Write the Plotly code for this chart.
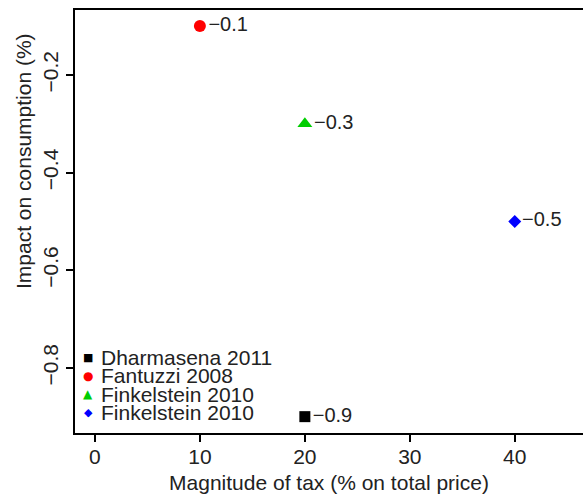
import plotly.graph_objects as go

# ---- data ----
studies = ["Dharmasena 2011", "Fantuzzi 2008", "Finkelstein 2010", "Finkelstein 2010"]
tax_pct = [20, 10, 20, 40]
impact = [-0.9, -0.1, -0.3, -0.5]
colors = ["#000000", "#FF0000", "#00CD00", "#0000FF"]
symbols = ["square", "circle", "triangle-up", "diamond"]
legend_glyphs = ["\u25A0", "\u25CF", "\u25B2", "\u25C6"]
x_ticks = [0, 10, 20, 30, 40]
y_ticks = [-0.8, -0.6, -0.4, -0.2]
x_title = "Magnitude of tax (% on total price)"
y_title = "Impact on consumption (%)"

FONT = "Liberation Sans, Arial, sans-serif"
FS = 21
TXT = "#222222"
W, H = 583, 501
ML, MR, MT, MB = 75, 0, 10, 68
marker_sizes = [11, 12, 13, 10]


def fmt(v):
    return f"{v:.1f}".replace("-", "\u2212")


fig = go.Figure()
for name, x, y, c, s, ms in zip(studies, tax_pct, impact, colors, symbols, marker_sizes):
    fig.add_trace(go.Scatter(
        x=[x], y=[y], mode="markers+text", name=name,
        marker=dict(color=c, symbol=s, size=ms, line=dict(width=0)),
        text=[fmt(y)], textposition="middle right",
        textfont=dict(family=FONT, size=FS - 1, color=TXT),
        showlegend=False, cliponaxis=False,
    ))

plot_w = W - ML - MR
plot_h = H - MT - MB

# manual legend (compact line spacing like R's legend)
row0 = 357  # px from top
step = 18.5
glyph_sizes = [11, 12, 12, 11]
for i, (name, c, g, gs) in enumerate(zip(studies, colors, legend_glyphs, glyph_sizes)):
    ypx = row0 + i * step
    yp = 1 - (ypx - MT) / plot_h
    fig.add_annotation(x=(88 - ML) / plot_w, y=yp, xref="paper", yref="paper",
                       text=g, showarrow=False, xanchor="center", yanchor="middle",
                       font=dict(family="DejaVu Sans", size=gs, color=c))
    fig.add_annotation(x=(99 - ML) / plot_w, y=yp, xref="paper", yref="paper",
                       text=name, showarrow=False, xanchor="left", yanchor="middle",
                       font=dict(family=FONT, size=FS, color=TXT))

# y-axis title (placed as in the reference, above centre)
fig.add_annotation(x=(24 - ML) / plot_w, y=1 - (161 - MT) / plot_h, xref="paper", yref="paper",
                   text=y_title, textangle=-90, showarrow=False,
                   xanchor="center", yanchor="middle",
                   font=dict(family=FONT, size=FS, color=TXT))

axis_common = dict(
    showgrid=False, zeroline=False, showline=True, linecolor="black", linewidth=2,
    ticks="outside", ticklen=7, tickwidth=1.5, tickcolor="black",
    tickfont=dict(family=FONT, size=FS, color=TXT), automargin=False,
)

fig.update_layout(
    width=W, height=H,
    margin=dict(l=ML, r=MR, t=MT, b=MB, pad=0),
    plot_bgcolor="white", paper_bgcolor="white",
    xaxis=dict(range=[-1.9, 46.5], tickvals=x_ticks, mirror=True, ticklabelstandoff=-3,
               title=dict(text=x_title, font=dict(family=FONT, size=FS, color=TXT), standoff=8),
               **axis_common),
    yaxis=dict(range=[-0.9335, -0.067], tickvals=y_ticks, tickangle=-90,
               tickformat=".1f", **axis_common),
)

fig.write_html("out.html", config={"displayModeBar": False},
               post_script="document.body.style.margin='0';")
